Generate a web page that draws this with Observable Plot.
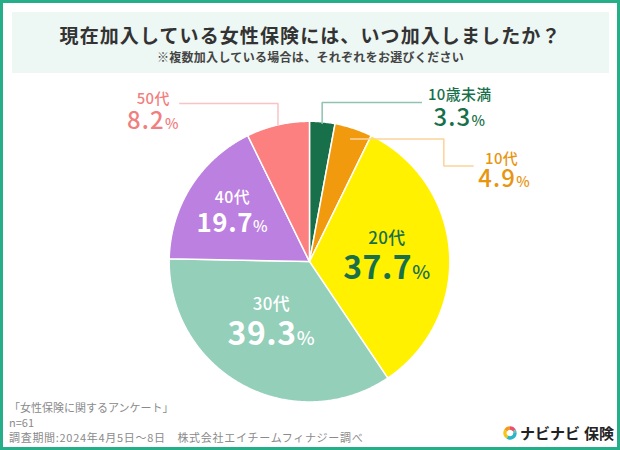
<!DOCTYPE html>
<html><head><meta charset="utf-8">
<script src="https://cdn.jsdelivr.net/npm/d3@7"></script>
<script src="https://cdn.jsdelivr.net/npm/@observablehq/plot@0.6"></script>
<style>
html,body{margin:0;padding:0;background:#fff;}
#frame{position:relative;width:620px;height:450px;box-sizing:border-box;border:3px solid #25ae87;font-family:"Noto Sans CJK JP","Noto Sans",sans-serif;overflow:hidden;background:#fff;}
#head{position:absolute;left:9px;top:9px;width:597px;height:61px;background:#edf7f3;text-align:center;}
#title{position:absolute;left:0;right:0;top:10px;font-size:19px;font-weight:700;color:#333;letter-spacing:1.1px;line-height:26px;}
#sub{position:absolute;left:0;right:0;top:37px;font-size:12px;font-weight:700;color:#444;line-height:16px;letter-spacing:0.3px;}
#chart{position:absolute;left:-3px;top:77px;}
.foot{position:absolute;left:6px;font-size:11px;color:#8a8a8a;line-height:15px;white-space:nowrap;}
#logo{position:absolute;left:500px;top:420px;height:20px;display:flex;align-items:center;white-space:nowrap;}
#logo span{font-size:15px;font-weight:700;color:#222;line-height:20px;}
</style></head>
<body>
<div id="frame">
  <div id="head">
    <div id="title">現在加入している女性保険には、いつ加入しましたか？</div>
    <div id="sub">※複数加入している場合は、それぞれをお選びください</div>
  </div>
  <div id="chart"></div>
  <div class="foot" style="top:397px">「女性保険に関するアンケート」</div>
  <div class="foot" style="top:412px">n=61</div>
  <div class="foot" style="top:427px;letter-spacing:0.7px">調査期間:2024年4月5日～8日　株式会社エイチームフィナジー調べ</div>
  <div id="logo">
    <svg width="14" height="14" viewBox="0 0 14 14" style="margin-right:3px">
      <path d="M7 2 A5 5 0 0 1 11.33 4.5" fill="none" stroke="#ef4f6c" stroke-width="3.4"/>
      <path d="M7 2 A5 5 0 0 0 2.67 4.5" fill="none" stroke="#f39a1e" stroke-width="3.4"/>
      <path d="M2.67 4.5 A5 5 0 0 0 4.5 11.33" fill="none" stroke="#f5c518" stroke-width="3.4"/>
      <path d="M4.5 11.33 A5 5 0 0 0 12 7" fill="none" stroke="#2bb5c8" stroke-width="3.4"/>
      <path d="M12 7 A5 5 0 0 0 11.33 4.5" fill="none" stroke="#5cc3b0" stroke-width="3.4"/>
    </svg>
    <span>ナビナビ</span><span style="margin-left:4px">保険</span>
  </div>
</div>
<script>
// ---- data ----
const categories = ["10歳未満", "10代", "20代", "30代", "40代", "50代"];
const values = [3.3, 4.9, 37.7, 39.3, 19.7, 8.2];

// ---- styles ----
const sliceColors = ["#17704a", "#f29a0e", "#fff100", "#93cfb9", "#bc80e0", "#fd8080"];
const textColors = ["#17704a", "#e8950f", "#17704a", "#ffffff", "#ffffff", "#f17f7f"];
const leaderColors = {"10歳未満": "#8fc2b0", "10代": "#fbd39a", "50代": "#f9c3c3"};

// ---- layout (px units, relative to pie centre, y up) ----
const R = 141;
const W = 620, H = 325, CX = 310.5, CY = 182;
const inside = {
  "20代": {r: 0.555, da: -2, nameDy: 16, valDy: -14, nameSize: 17, valSize: 32, valWeight: 700},
  "30代": {r: 0.49, da: 5, nameDy: 15, valDy: -15, nameSize: 17, valSize: 32, valWeight: 700},
  "40代": {r: 0.66, da: 1, nameDy: 13, valDy: -12, nameSize: 16, valSize: 26, valWeight: 700}
};
const outside = {
  "10歳未満": {r0: 0.985, path: [{y: 160}, {x: 113}], dx: 38, nameDy: 8, valDx: 0, valDy: -15},
  "10代": {r0: 0.92, path: [{x: 135}, {y: 96}, {x: 165}], dx: 28, nameDy: 8, valDx: 3, valDy: -12},
  "50代": {r0: 0.995, path: [{y: 159}, {x: -131}], dx: -26, nameDy: 5, valDx: 0, valDy: -17}
};

const rows = categories.map((c, i) => ({cat: c, value: values[i]}));
const arcs = d3.pie().sort(null).value(d => d.value)(rows);

// slice outlines
const slicePts = arcs.flatMap(p => {
  const pts = [{cat: p.data.cat, x: 0, y: 0}];
  const n = Math.max(4, Math.ceil((p.endAngle - p.startAngle) / (Math.PI / 360)));
  for (let i = 0; i <= n; i++) {
    const a = p.startAngle + (p.endAngle - p.startAngle) * i / n;
    pts.push({cat: p.data.cat, x: R * Math.sin(a), y: R * Math.cos(a)});
  }
  pts.push({cat: p.data.cat, x: 0, y: 0});
  return pts;
});

// one two-line label per slice (category name over percentage)
const labels = [];
const leaders = [];
arcs.forEach((p, i) => {
  const c = p.data.cat;
  const mid = (p.startAngle + p.endAngle) / 2;
  const pct = p.data.value.toFixed(1) + "%";
  if (inside[c]) {
    const L = inside[c];
    const a = mid + L.da * Math.PI / 180;
    labels.push({cat: c, pct, x: L.r * R * Math.sin(a), y: L.r * R * Math.cos(a), color: textColors[i],
      nameSize: L.nameSize, valSize: L.valSize, nameOff: L.nameDy, valOff: L.valDy, valDx: 0, valWeight: L.valWeight, valLs: 0.6});
  } else if (outside[c]) {
    const O = outside[c];
    let px = O.r0 * R * Math.sin(mid), py = O.r0 * R * Math.cos(mid);
    leaders.push({cat: c, x: px, y: py});
    O.path.forEach(s => {
      if (s.x !== undefined) px = s.x;
      if (s.y !== undefined) py = s.y;
      leaders.push({cat: c, x: px, y: py});
    });
    labels.push({cat: c, pct, x: px + O.dx, y: py, color: textColors[i],
      nameSize: 15, valSize: 24, nameOff: O.nameDy, valOff: O.valDy, valDx: O.valDx, valWeight: 500, valLs: 1.2});
  }
});
const labelByCat = new Map(labels.map(l => [l.cat, l]));

const fontFam = "'Noto Sans CJK JP', 'Noto Sans', sans-serif";
const marks = [
  Plot.line(slicePts, {x: "x", y: "y", z: "cat", fill: "cat", stroke: "white", strokeWidth: 1.5, strokeLinejoin: "round", curve: "linear"}),
  ...Object.keys(outside).map(c => Plot.line(leaders.filter(d => d.cat === c), {x: "x", y: "y", stroke: leaderColors[c], strokeWidth: 1.5, strokeLinecap: "butt", strokeLinejoin: "miter"})),
  ...labels.map(l => Plot.text([l], {x: "x", y: "y", text: d => d.cat + "\n" + d.pct, fill: l.color, fontSize: l.valSize, fontFamily: fontFam}))
];

const svg = Plot.plot({
  width: W, height: H,
  margin: 0,
  x: {domain: [-CX, W - CX], range: [0, W], axis: null},
  y: {domain: [-(H - CY), CY], range: [H, 0], axis: null},
  color: {domain: categories, range: sliceColors},
  style: {background: "transparent", fontFamily: fontFam, overflow: "visible"},
  marks
});

// style the two lines of each label: smaller name line, larger value with a small % sign
const ns = "http://www.w3.org/2000/svg";
svg.querySelectorAll("text").forEach(t => {
  const spans = t.querySelectorAll(":scope > tspan");
  if (spans.length !== 2) return;
  const l = labelByCat.get(spans[0].textContent);
  if (!l) return;
  t.removeAttribute("dy");
  const [nm, val] = spans;
  nm.removeAttribute("dy"); val.removeAttribute("dy");
  nm.setAttribute("font-size", l.nameSize);
  nm.setAttribute("font-weight", 500);
  nm.setAttribute("letter-spacing", 0.4);
  nm.setAttribute("y", (-l.nameOff + 0.36 * l.nameSize).toFixed(1));
  val.setAttribute("font-size", l.valSize);
  val.setAttribute("font-weight", l.valWeight);
  val.setAttribute("letter-spacing", l.valLs);
  val.setAttribute("x", l.valDx);
  val.setAttribute("y", (-l.valOff + 0.36 * l.valSize).toFixed(1));
  const m = val.textContent.match(/^(.*?)%$/);
  if (m) {
    val.textContent = "";
    const a = document.createElementNS(ns, "tspan");
    a.textContent = m[1];
    const b = document.createElementNS(ns, "tspan");
    b.textContent = "%";
    b.setAttribute("font-size", "0.6em");
    b.setAttribute("font-weight", "500");
    val.appendChild(a); val.appendChild(b);
  }
});
document.getElementById("chart").appendChild(svg);
</script>
</body></html>
